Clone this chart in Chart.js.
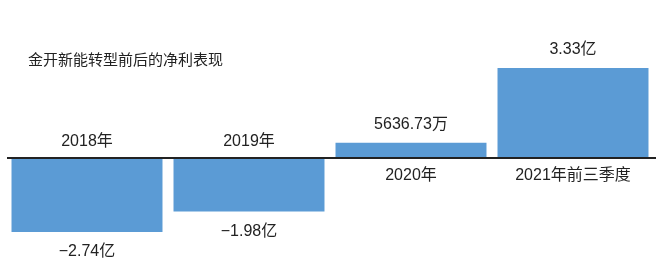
<!DOCTYPE html>
<html>
<head>
<meta charset="utf-8">
<script src="https://cdn.jsdelivr.net/npm/chart.js@4/dist/chart.umd.min.js"></script>
<style>
    body { margin: 0; background: #fff; }
    #wrap { position: relative; width: 664px; height: 263px; }
    #title {
        position: absolute; left: 28px; top: 48px;
        font: 15px "Liberation Sans", "Noto Sans CJK SC", sans-serif;
        color: #222;
    }
</style>
</head>
<body>
<div id="wrap">
    <canvas id="profitChart"></canvas>
    <div id="title">金开新能转型前后的净利表现</div>
</div>
<script>
// 净利润（单位：亿元）
const categories = ['2018年', '2019年', '2020年', '2021年前三季度'];
const netProfit = [-2.74, -1.98, 0.563673, 3.33];
const valueLabels = ['−2.74亿', '−1.98亿', '5636.73万', '3.33亿'];

const FONT = '16px "Liberation Sans", "Noto Sans CJK SC", sans-serif';

// Draw zero line, category names and value labels
const labelPlugin = {
    id: 'labelPlugin',
    afterDatasetsDraw(chart) {
        const ctx = chart.ctx;
        const y = chart.scales.y;
        const zeroY = y.getPixelForValue(0);
        const area = chart.chartArea;

        ctx.save();
        ctx.strokeStyle = '#222';
        ctx.lineWidth = 2;
        ctx.beginPath();
        ctx.moveTo(area.left + 1, zeroY);
        ctx.lineTo(area.right + 2, zeroY);
        ctx.stroke();

        ctx.font = FONT;
        ctx.fillStyle = '#222';
        ctx.textAlign = 'center';
        ctx.textBaseline = 'middle';

        chart.getDatasetMeta(0).data.forEach((bar, i) => {
            const v = netProfit[i];
            if (v < 0) {
                ctx.fillText(categories[i], bar.x, zeroY - 16);
                ctx.fillText(valueLabels[i], bar.x, bar.y + 20);
            } else {
                ctx.fillText(categories[i], bar.x, zeroY + 18);
                ctx.fillText(valueLabels[i], bar.x, bar.y - 18);
            }
        });
        ctx.restore();
    }
};

// 27 px per 亿, zero line at y = 158
const pxPerUnit = 27;

new Chart(document.getElementById('profitChart'), {
    type: 'bar',
    data: {
        labels: categories,
        datasets: [{
            data: netProfit,
            backgroundColor: '#5B9BD5',
            borderWidth: 0,
            barPercentage: 0.932,
            categoryPercentage: 1
        }]
    },
    options: {
        responsive: true,
        maintainAspectRatio: false,
        animation: false,
        layout: { padding: { left: 6, right: 10, top: 0, bottom: 0 } },
        plugins: {
            legend: { display: false },
            tooltip: { enabled: false }
        },
        scales: {
            x: { display: false },
            y: {
                display: false,
                min: -105 / pxPerUnit,
                max: 158 / pxPerUnit
            }
        }
    },
    plugins: [labelPlugin]
});
</script>
</body>
</html>
